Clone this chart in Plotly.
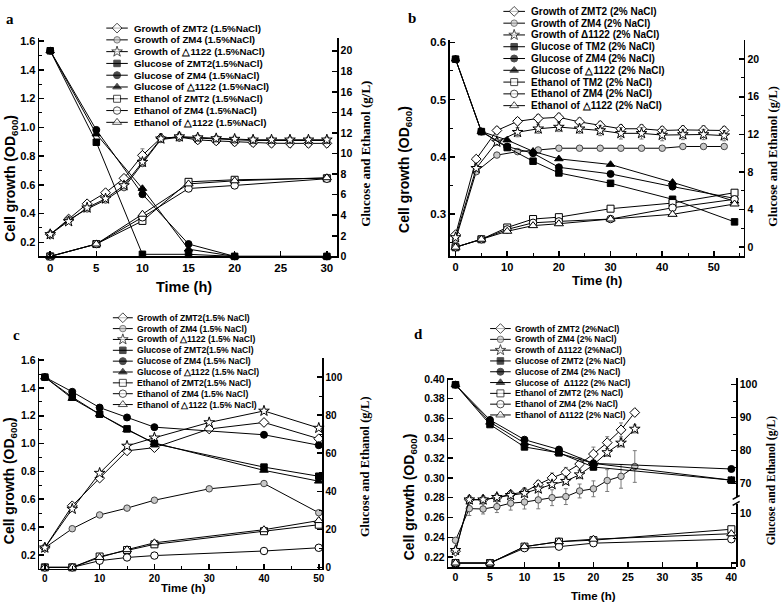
import plotly.graph_objects as go

W, H = 784, 609
SANS = "Liberation Sans, Arial, sans-serif"
SERIF = "Liberation Serif, Times New Roman, serif"

# ---------------- Panel a (1.5% NaCl, 20 g/L glucose) ----------------
a_growth_t = [0, 2, 4, 6, 8, 10, 12, 14, 16, 18, 20, 22, 24, 26, 28, 30]
a_gr_zmt2 = [0.255, 0.362, 0.468, 0.545, 0.645, 0.805, 0.925, 0.932, 0.912, 0.905, 0.898, 0.893, 0.889, 0.888, 0.888, 0.888]
a_gr_zm4 = [0.255, 0.355, 0.432, 0.494, 0.580, 0.748, 0.915, 0.930, 0.925, 0.920, 0.912, 0.908, 0.908, 0.908, 0.908, 0.908]
a_gr_d1122 = [0.255, 0.345, 0.440, 0.503, 0.595, 0.758, 0.920, 0.935, 0.928, 0.922, 0.918, 0.913, 0.913, 0.913, 0.913, 0.913]
a_err_zmt2 = [0.008, 0.010, 0.012, 0.012, 0.015, 0.045, 0.030, 0.025, 0.025, 0.025, 0.025, 0.025, 0.025, 0.025, 0.025, 0.025]
a_err_zm4 = [0.008, 0.010, 0.010, 0.010, 0.012, 0.020, 0.020, 0.020, 0.020, 0.020, 0.020, 0.020, 0.020, 0.020, 0.020, 0.020]
a_err_d1122 = [0.008, 0.010, 0.010, 0.010, 0.012, 0.020, 0.020, 0.030, 0.020, 0.020, 0.020, 0.020, 0.020, 0.020, 0.020, 0.020]
a_sugar_t = [0, 5, 10, 15, 20, 30]
a_glu_zmt2 = [20.0, 11.1, 0.2, 0.2, 0.0, 0.0]
a_glu_zm4 = [20.0, 12.3, 6.05, 1.2, 0.0, 0.0]
a_glu_d1122 = [20.0, 11.9, 6.6, 0.7, 0.0, 0.0]
a_eth_zmt2 = [0.0, 1.2, 3.45, 7.25, 7.45, 7.6]
a_eth_zm4 = [0.0, 1.2, 3.8, 6.6, 6.9, 7.55]
a_eth_d1122 = [0.0, 1.2, 4.1, 7.05, 7.35, 7.65]
a_legend = ["Growth of ZMT2 (1.5%NaCl)", "Growth of ZM4 (1.5%NaCl)", "Growth of \u25b31122 (1.5%NaCl)",
            "Glucose of ZMT2(1.5%NaCl)", "Glucose of ZM4 (1.5%NaCl)", "Glucose of \u25b31122 (1.5%NaCl)",
            "Ethanol of ZMT2 (1.5%NaCl)", "Ethanol of ZM4 (1.5%NaCl)", "Ethanol of \u25b31122 (1.5%NaCl)"]

# ---------------- Panel b (2% NaCl, 20 g/L glucose) ----------------
b_growth_t = [0, 4, 8, 12, 16, 20, 24, 28, 32, 36, 40, 44, 48, 52]
b_gr_zmt2 = [0.264, 0.396, 0.446, 0.462, 0.467, 0.469, 0.461, 0.455, 0.449, 0.449, 0.446, 0.447, 0.447, 0.446]
b_gr_zm4 = [0.255, 0.374, 0.403, 0.409, 0.412, 0.415, 0.415, 0.415, 0.415, 0.415, 0.415, 0.418, 0.418, 0.418]
b_gr_d1122 = [0.259, 0.380, 0.426, 0.443, 0.449, 0.452, 0.449, 0.446, 0.441, 0.441, 0.438, 0.439, 0.439, 0.437]
b_err_zmt2 = [0.003, 0.005, 0.006, 0.006, 0.007, 0.007, 0.007, 0.007, 0.007, 0.007, 0.007, 0.007, 0.007, 0.007]
b_err_zm4 = [0.003, 0.004, 0.003, 0.003, 0.003, 0.003, 0.003, 0.003, 0.003, 0.003, 0.003, 0.003, 0.003, 0.003]
b_err_d1122 = [0.003, 0.005, 0.006, 0.008, 0.008, 0.008, 0.008, 0.009, 0.010, 0.010, 0.010, 0.009, 0.009, 0.009]
b_sugar_t = [0, 5, 10, 15, 20, 30, 42, 54]
b_glu_zmt2 = [20.0, 12.3, 10.6, 9.15, 7.9, 6.8, 5.1, 2.7]
b_glu_zm4 = [20.0, 12.3, 10.7, 10.0, 8.5, 7.8, 6.45, 5.2]
b_glu_d1122 = [20.0, 12.3, 11.4, 10.2, 9.4, 8.8, 6.9, 4.9]
b_eth_zmt2 = [0.0, 0.85, 2.1, 3.0, 3.2, 4.1, 4.7, 5.8]
b_eth_zm4 = [0.0, 0.85, 1.9, 2.6, 2.75, 3.0, 4.2, 5.1]
b_eth_d1122 = [0.0, 0.85, 1.7, 2.3, 2.5, 3.0, 3.5, 4.6]
b_legend = ["Growth of ZMT2 (2% NaCl)", "Growth of ZM4 (2% NaCl)", "Growth of \u03941122 (2% NaCl)",
            "Glucose of TM2 (2% NaCl)", "Glucose of ZM4 (2% NaCl)", "Glucose of \u25b31122 (2% NaCl)",
            "Ethanol of TM2 (2% NaCl)", "Ethanol of ZM4 (2% NaCl)", "Ethanol of \u25b31122 (2% NaCl)"]

# ---------------- Panel c (1.5% NaCl, 100 g/L glucose) ----------------
c_growth_t = [0, 5, 10, 15, 20, 30, 40, 50]
c_gr_zmt2 = [0.251, 0.553, 0.752, 0.948, 0.971, 1.105, 1.152, 1.035]
c_gr_zm4 = [0.251, 0.388, 0.487, 0.536, 0.593, 0.675, 0.713, 0.503]
c_gr_d1122 = [0.251, 0.530, 0.788, 0.983, 1.042, 1.152, 1.235, 1.112]
c_sugar_t = [0, 5, 10, 15, 20, 40, 50]
c_glu_zmt2 = [100.0, 89.5, 80.5, 72.8, 65.0, 52.7, 47.9]
c_glu_zm4 = [100.0, 92.3, 84.0, 78.8, 73.7, 69.7, 64.2]
c_glu_d1122 = [100.0, 88.8, 80.5, 72.3, 65.4, 51.0, 45.3]
c_eth_zmt2 = [0.0, 0.0, 5.7, 9.1, 12.1, 19.0, 22.4]
c_eth_zm4 = [0.0, 0.0, 3.5, 5.2, 6.2, 8.6, 10.3]
c_eth_d1122 = [0.0, 0.0, 5.2, 9.3, 12.9, 19.8, 24.6]
c_legend = ["Growth of ZMT2(1.5% NaCl)", "Growth of ZM4 (1.5% NaCl)", "Growth of \u25b31122 (1.5% NaCl)",
            "Glucose of ZMT2(1.5% NaCl)", "Glucose of ZM4 (1.5% NaCl)", "Glucose of \u25b31122 (1.5% NaCl)",
            "Ethanol of ZMT2(1.5% NaCl)", "Ethanol of ZM4 (1.5% NaCl)", "Ethanol of \u25b31122 (1.5% NaCl)"]

# ---------------- Panel d (2% NaCl, 100 g/L glucose) ----------------
d_growth_t = [0, 2, 4, 6, 8, 10, 12, 14, 16, 18, 20, 22, 24, 26]
d_gr_zmt2 = [0.226, 0.278, 0.278, 0.280, 0.2835, 0.2858, 0.2934, 0.300, 0.3056, 0.314, 0.3241, 0.3356, 0.3485, 0.366]
d_gr_zm4 = [0.237, 0.269, 0.2686, 0.271, 0.2745, 0.2756, 0.2778, 0.280, 0.2811, 0.2868, 0.289, 0.2973, 0.3016, 0.3115]
d_gr_d1122 = [0.227, 0.278, 0.278, 0.2805, 0.2825, 0.2845, 0.289, 0.2934, 0.2967, 0.3033, 0.3132, 0.3257, 0.3353, 0.3494]
d_err_zmt2 = [0.002, 0.004, 0.004, 0.004, 0.003, 0.004, 0.004, 0.005, 0.005, 0.006, 0.007, 0.006, 0.007, 0.003]
d_err_zm4 = [0.002, 0.007, 0.005, 0.006, 0.007, 0.007, 0.009, 0.008, 0.008, 0.007, 0.008, 0.011, 0.012, 0.016]
d_err_d1122 = [0.002, 0.003, 0.003, 0.003, 0.003, 0.003, 0.003, 0.003, 0.003, 0.004, 0.005, 0.004, 0.004, 0.004]
d_sugar_t = [0, 5, 10, 15, 20, 40]
d_glu_zmt2 = [100.0, 87.9, 81.1, 79.3, 75.0, 71.0]
d_glu_zm4 = [100.0, 89.3, 83.3, 80.3, 76.1, 74.4]
d_glu_d1122 = [100.0, 88.6, 82.3, 79.3, 76.1, 71.0]
d_eth_zmt2 = [0.0, 0.0, 3.3, 4.3, 4.6, 6.8]
d_eth_zm4 = [0.0, 0.0, 3.0, 3.3, 4.0, 4.8]
d_eth_d1122 = [0.0, 0.0, 3.3, 4.3, 4.8, 5.9]
d_legend = ["Growth of ZMT2 (2%NaCl)", "Growth of ZM4 (2% NaCl)", "Growth of \u03941122 (2%NaCl)",
            "Glucose of ZMT2 (2% NaCl)", "Glucose of ZM4 (2% NaCl)", "Glucose of  \u03941122 (2% NaCl)",
            "Ethanol of ZMT2 (2% NaCl)", "Ethanol of ZM4 (2% NaCl)", "Ethanol of \u03941122 (2% NaCl)"]

# ---------------- styles ----------------
# (symbol, fill, size, outline)
STYLES = [
    ("diamond", "white", 7.5, "black"), ("circle", "#c8c8c8", 6.5, "#444"), ("star", "white", 8, "black"),
    ("square", "black", 6.5, "black"), ("circle", "black", 7, "black"), ("triangle-up", "black", 7.5, "black"),
    ("square", "white", 7, "black"), ("circle", "white", 7.5, "black"), ("triangle-up", "white", 8, "black"),
]

def fx(px):
    return px / W

def fy(py):
    return 1 - py / H

panels = [
    dict(xa="x", yl="y", yg="y2", ye="y2",
         gt=a_growth_t, growth=[a_gr_zmt2, a_gr_zm4, a_gr_d1122], gerr=[a_err_zmt2, a_err_zm4, a_err_d1122],
         st=a_sugar_t, glu=[a_glu_zmt2, a_glu_zm4, a_glu_d1122], eth=[a_eth_zmt2, a_eth_zm4, a_eth_d1122],
         labels=a_legend, leg=(106.7, 128.3, 132.7, 23.5, 12.0, 9.7)),
    dict(xa="x2", yl="y3", yg="y4", ye="y4",
         gt=b_growth_t, growth=[b_gr_zmt2, b_gr_zm4, b_gr_d1122], gerr=[b_err_zmt2, b_err_zm4, b_err_d1122],
         st=b_sugar_t, glu=[b_glu_zmt2, b_glu_zm4, b_glu_d1122], eth=[b_eth_zmt2, b_eth_zm4, b_eth_d1122],
         labels=b_legend, leg=(505.3, 527.0, 531.3, 6.5, 12.0, 10.0)),
    dict(xa="x3", yl="y5", yg="y6", ye="y6",
         gt=c_growth_t, growth=[c_gr_zmt2, c_gr_zm4, c_gr_d1122], gerr=[None, None, None],
         st=c_sugar_t, glu=[c_glu_zmt2, c_glu_zm4, c_glu_d1122], eth=[c_eth_zmt2, c_eth_zm4, c_eth_d1122],
         labels=c_legend, leg=(113.3, 133.3, 136.0, 318.5, 11.05, 8.6)),
    dict(xa="x4", yl="y7", yg="y8", ye="y9",
         gt=d_growth_t, growth=[d_gr_zmt2, d_gr_zm4, d_gr_d1122], gerr=[d_err_zmt2, d_err_zm4, d_err_d1122],
         st=d_sugar_t, glu=[d_glu_zmt2, d_glu_zm4, d_glu_d1122], eth=[d_eth_zmt2, d_eth_zm4, d_eth_d1122],
         labels=d_legend, leg=(492.0, 512.7, 515.3, 329.5, 11.0, 8.5)),
]

fig = go.Figure()

def add_series(t, v, xa, ya, style, err=None):
    sym, fill, size, outline = style
    kw = {}
    if err is not None:
        kw["error_y"] = dict(type="data", array=err, visible=True, color="#7a7a7a", thickness=1, width=2)
    fig.add_trace(go.Scatter(
        x=t, y=v, xaxis=xa, yaxis=ya, mode="lines+markers",
        line=dict(color="black", width=1),
        marker=dict(symbol=sym, size=size, color=fill, line=dict(color=outline, width=1)),
        showlegend=False, cliponaxis=False, hoverinfo="skip", **kw))

for p in panels:
    for i in range(3):
        add_series(p["gt"], p["growth"][i], p["xa"], p["yl"], STYLES[i], p["gerr"][i])
    for i in range(3):
        add_series(p["st"], p["glu"][i], p["xa"], p["yg"], STYLES[3 + i])
    for i in range(3):
        add_series(p["st"], p["eth"][i], p["xa"], p["ye"], STYLES[6 + i])

# ---------------- hand-built legends (on a full-page pixel overlay axis) ----------------
annotations = []
for p in panels:
    x0, x1, tx, y0, dy, fs = p["leg"]
    for k, lab in enumerate(p["labels"]):
        yy = y0 + k * dy
        sym, fill, size, outline = STYLES[k]
        fig.add_trace(go.Scatter(
            x=[x0, (x0 + x1) / 2, x1], y=[yy, yy, yy], xaxis="x5", yaxis="y10",
            mode="lines+markers", line=dict(color="black", width=1),
            marker=dict(symbol=sym, size=[0, size, 0], color=fill,
                        line=dict(color=outline, width=[0, 1, 0])),
            showlegend=False, cliponaxis=False, hoverinfo="skip"))
        annotations.append(dict(x=fx(tx), y=fy(yy), xref="paper", yref="paper", text=lab,
                                showarrow=False, xanchor="left", yanchor="middle",
                                font=dict(family=SANS, size=fs, color="black", weight="bold")))

# ---------------- axes ----------------
def xcfg(dom, anchor, rng, dtick, minor=None, fs=11):
    d = dict(domain=[fx(dom[0]), fx(dom[1])], anchor=anchor, range=rng, tick0=0, dtick=dtick,
             showline=True, linecolor="black", linewidth=1.5, ticks="inside", ticklen=5, tickwidth=1.5,
             tickcolor="black", showgrid=False, zeroline=False,
             tickfont=dict(family=SANS, size=fs, color="black", weight="bold"))
    if minor:
        d["minor"] = dict(dtick=minor, ticks="inside", ticklen=3, tickwidth=1, tickcolor="black", showgrid=False)
    return d

def ycfg(dom, anchor, rng, tick0, dtick, minor=None, fs=11, side="left", overlaying=None, fmt=None):
    d = dict(anchor=anchor, range=rng, tick0=tick0, dtick=dtick, side=side,
             showline=True, linecolor="black", linewidth=1.5, ticks="inside", ticklen=5, tickwidth=1.5,
             tickcolor="black", showgrid=False, zeroline=False,
             tickfont=dict(family=SANS, size=fs, color="black", weight="bold"))
    if overlaying:
        d["overlaying"] = overlaying
    else:
        d["domain"] = [fy(dom[1]), fy(dom[0])]
    if fmt:
        d["tickformat"] = fmt
    if minor:
        d["minor"] = dict(dtick=minor, ticks="inside", ticklen=3, tickwidth=1, tickcolor="black", showgrid=False)
    return d

layout_axes = {
    # panel a
    "xaxis": xcfg((39.3, 338.3), "y", [-1.2, 31.1], 5, fs=11.5),
    "yaxis": ycfg((33.3, 256), "x", [0.102, 1.623], 0.2, 0.2, minor=0.1, fs=11, fmt=".1f"),
    "yaxis2": ycfg(None, "x", [0, 21.27], 0, 2, fs=10.5, side="right", overlaying="y"),
    # panel b
    "xaxis2": xcfg((451.7, 746.7), "y3", [-1.08, 55.8], 10, minor=5, fs=11),
    "yaxis3": ycfg((36, 256), "x2", [0.226, 0.6035], 0.3, 0.1, minor=0.05, fs=11.5, fmt=".1f"),
    "yaxis4": ycfg(None, "x2", [-0.97, 22.0], 0, 4, minor=2, fs=10.5, side="right", overlaying="y3"),
    # panel c
    "xaxis3": xcfg((39.3, 323.3), "y5", [-1.04, 50.6], 10, minor=5, fs=10),
    "yaxis5": ycfg((360, 574), "x3", [0.101, 1.612], 0.2, 0.2, minor=0.1, fs=10.5, fmt=".1f"),
    "yaxis6": ycfg(None, "x3", [-0.67, 109.8], 0, 20, minor=10, fs=10, side="right", overlaying="y5"),
    # panel d
    "xaxis4": xcfg((450, 739), "y7", [-1.05, 40.7], 5, fs=10.5),
    "yaxis7": ycfg((379.5, 572.7), "x4", [0.2097, 0.4012], 0.22, 0.02, fs=10.5, fmt=".2f"),
    "yaxis8": ycfg((379.5, 501), "x4", [65.9, 102.15], 70, 10, minor=5, fs=10.5, side="right"),
    "yaxis9": ycfg((508, 572.7), "x4", [-0.87, 11.92], 0, 10, minor=5, fs=10.5, side="right"),
    # pixel overlay for legends
    "xaxis5": dict(domain=[0, 1], range=[0, W], visible=False, anchor="y10", fixedrange=True),
    "yaxis10": dict(domain=[0, 1], range=[H, 0], visible=False, anchor="x5", fixedrange=True),
}

# ---------------- titles & panel letters ----------------
def txt(x, y, s, size, family=SANS, angle=0, weight="bold"):
    annotations.append(dict(x=fx(x), y=fy(y), xref="paper", yref="paper", text=s, showarrow=False,
                            xanchor="center", yanchor="middle", textangle=angle,
                            font=dict(family=family, size=size, color="black", weight=weight)))

OD = "Cell growth (OD<sub>600</sub>)"
GE = "Glucose and Ethanol (g/L)"
for (lx, ly, rx, ry, tx_, ty_, px_, py_, letter, tfs, rfs) in [
    (11, 176, 367, 152, 185, 287, 10, 14, "a", 14.5, 13),
    (406.5, 167, 776.5, 154, 599, 281, 414, 13, "b", 13, 12.5),
    (10, 484, 366, 470, 184.7, 593.3, 16.5, 336, "c", 11.5, 12.5),
    (412, 501, 774, 484, 596, 601.7, 420, 335, "d", 11.5, 11.5),
]:
    txt(lx, ly, OD, 14, angle=-90)
    txt(rx, ry, GE, rfs, family=SERIF, angle=-90)
    txt(tx_, ty_, "Time (h)", tfs)
    txt(px_, py_, letter, 15, family=SERIF)

# axis-break marks on the right axis of panel d
shapes = []
for off in (0, 6):
    shapes.append(dict(type="line", xref="paper", yref="paper",
                       x0=fx(735.5), y0=fy(503.5 + off), x1=fx(742.5), y1=fy(499.5 + off),
                       line=dict(color="black", width=1.5)))

fig.update_layout(
    width=W, height=H, margin=dict(l=0, r=0, t=0, b=0, pad=0),
    paper_bgcolor="white", plot_bgcolor="rgba(0,0,0,0)",
    showlegend=False, annotations=annotations, shapes=shapes,
    font=dict(family=SANS, color="black"),
    **layout_axes,
)

fig.write_html("out.html", config={"displayModeBar": False, "staticPlot": True},
               post_script="document.body.style.margin='0';document.body.style.overflow='hidden';")
